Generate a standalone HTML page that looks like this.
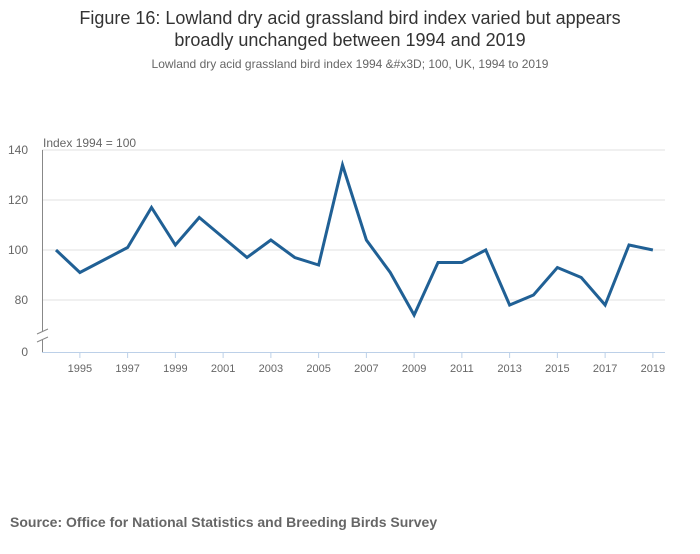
<!DOCTYPE html>
<html><head><meta charset="utf-8"><style>
body{margin:0;background:#fff;font-family:"Liberation Sans",sans-serif}
</style></head><body>
<svg width="700" height="549" xmlns="http://www.w3.org/2000/svg" font-family="Liberation Sans, sans-serif">
<text x="350" y="24" text-anchor="middle" font-size="18" fill="#333">Figure 16: Lowland dry acid grassland bird index varied but appears</text>
<text x="350" y="46" text-anchor="middle" font-size="18" fill="#333">broadly unchanged between 1994 and 2019</text>
<text x="350" y="68" text-anchor="middle" font-size="12" fill="#666">Lowland dry acid grassland bird index 1994 &amp;#x3D; 100, UK, 1994 to 2019</text>
<text x="43" y="147" font-size="12" fill="#666">Index 1994 = 100</text>
<g id="grid"></g><g id="xax"></g>
<path id="line" fill="none" stroke="#206095" stroke-width="3" stroke-linejoin="miter"/>
<text x="10" y="527" font-size="14" font-weight="bold" fill="#666">Source: Office for National Statistics and Breeding Birds Survey</text>
</svg>
<script>
const years=[1994,1995,1996,1997,1998,1999,2000,2001,2002,2003,2004,2005,2006,2007,2008,2009,2010,2011,2012,2013,2014,2015,2016,2017,2018,2019];
const values=[100,91,96,101,117,102,113,105,97,104,97,94,134,104,91,74,95,95,100,78,82,93,89,78,102,100];
const yTicks=[140,120,100,80];
const xTickLabels=[1995,1997,1999,2001,2003,2005,2007,2009,2011,2013,2015,2017,2019];
const NS="http://www.w3.org/2000/svg";
const x=yr=>56+(yr-1994)*23.875;
const y=v=>250-(v-100)*2.5;
const grid=document.getElementById('grid'),xax=document.getElementById('xax');
function mk(tag,at,parent,txt){const e=document.createElementNS(NS,tag);for(const k in at)e.setAttribute(k,at[k]);if(txt!==undefined)e.textContent=txt;parent.appendChild(e);return e;}
yTicks.forEach(t=>{
const l=mk('line',{x1:42,x2:665,y1:y(t),y2:y(t),stroke:'#e0e0e0'},grid);


const tx=mk('text',{x:28,y:y(t)+4,'text-anchor':'end','font-size':12,fill:'#666'},grid,t);


});
const z=mk('text',{x:28,y:356,'text-anchor':'end','font-size':12,fill:'#666'},grid,'0');


const ya=mk('path',{d:'M42.5 150 V332 M42.5 340 V352',stroke:'#888',fill:'none'},grid);


const br=mk('path',{d:'M37 334 L48 329 M37 342 L48 337',stroke:'#888',fill:'none'},grid);


const xa=mk('line',{x1:42,x2:665,y1:352.5,y2:352.5,stroke:'#bcd0e8'},xax);


xTickLabels.forEach(t=>{
const tk=mk('line',{x1:x(t),x2:x(t),y1:352,y2:358,stroke:'#bcd0e8'},xax);


const tx=mk('text',{x:x(t),y:372,'text-anchor':'middle','font-size':11,fill:'#666'},xax,t);


});
document.getElementById('line').setAttribute('d',years.map((yr,i)=>(i?'L':'M')+x(yr)+' '+y(values[i])).join(' '));
</script>
</body></html>
